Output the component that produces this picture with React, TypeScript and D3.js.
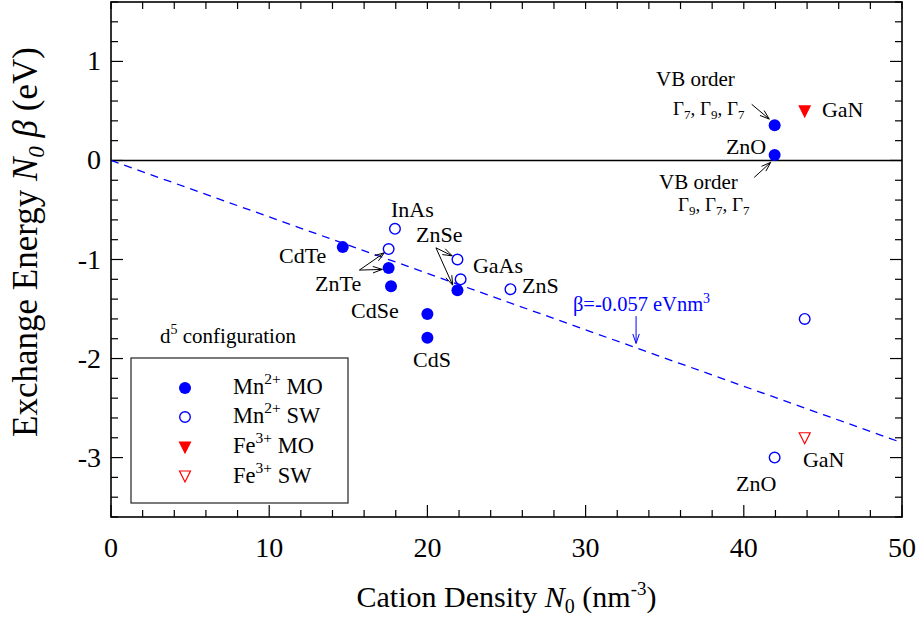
import React from "react";
import * as d3 from "d3";

const W = 922;
const H = 621;
const PL = 111, PR = 902, PT = 2, PB = 517;

const xDomain = [0, 50];
const yDomain = [-3.6, 1.6];
const xTickVals = [0, 10, 20, 30, 40, 50];
const yTickVals = [-3, -2, -1, 0, 1];

// Mn2+ MO (filled blue circles)
const mnMOName = ["CdTe", "ZnTe", "CdSe", "CdS", "CdS", "ZnSe", "ZnO", "ZnO"];
const mnMOx = [14.65, 17.55, 17.7, 20.0, 20.0, 21.9, 41.95, 41.95];
const mnMOy = [-0.875, -1.085, -1.27, -1.55, -1.79, -1.31, 0.355, 0.055];

// Mn2+ SW (open blue circles)
const mnSWName = ["InAs", "ZnTe", "ZnSe", "GaAs", "ZnS", "GaN", "ZnO"];
const mnSWx = [17.95, 17.55, 21.9, 22.1, 25.25, 43.85, 41.95];
const mnSWy = [-0.69, -0.895, -1.0, -1.2, -1.3, -1.6, -3.0];

// Fe3+ MO / SW (red triangles)
const feMOx = [43.85];
const feMOy = [0.5];
const feSWx = [43.85];
const feSWy = [-2.8];

const slope = -0.057;

// labels: text, data x (left), data y (baseline)
const labelText = ["InAs", "CdTe", "ZnTe", "CdSe", "CdS", "ZnSe", "GaAs", "ZnS", "VB order", "GaN", "ZnO", "VB order", "GaN", "ZnO"];
const labelX = [19.05, 10.62, 12.9, 15.17, 19.09, 19.28, 22.88, 25.98, 34.45, 44.94, 38.87, 34.64, 43.74, 39.51];
const labelY = [-0.572, -1.036, -1.319, -1.592, -2.087, -0.824, -1.137, -1.339, 0.752, 0.438, 0.065, -0.287, -3.097, -3.339];

// arrows: x1,y1 -> x2,y2 in data units
const arrowX1 = [15.7, 15.7, 20.54, 20.54, 40.5, 40.66, 33.19];
const arrowY1 = [-1.107, -1.107, -0.882, -0.882, 0.567, -0.171, -1.572];
const arrowX2 = [17.28, 17.15, 21.57, 21.6, 41.61, 41.7, 33.19];
const arrowY2 = [-0.932, -1.1, -0.963, -1.259, 0.418, -0.019, -1.847];
const arrowColor = ["black", "black", "black", "black", "black", "black", "#0000ff"];

const BLUE = "#0000ff";
const RED = "#ff0000";
const FONT = "'Liberation Serif', 'Times New Roman', serif";

function arrowPath(x1: number, y1: number, x2: number, y2: number) {
  const ang = Math.atan2(y2 - y1, x2 - x1);
  const L = 10, a = 0.33;
  const p1x = x2 - L * Math.cos(ang - a), p1y = y2 - L * Math.sin(ang - a);
  const p2x = x2 - L * Math.cos(ang + a), p2y = y2 - L * Math.sin(ang + a);
  return `M${x1},${y1}L${x2},${y2}M${p1x},${p1y}L${x2},${y2}L${p2x},${p2y}`;
}

function triDown(cx: number, cy: number, filled: boolean, color: string) {
  const hw = 5.5;
  const d = `M${cx - hw},${cy - 5}L${cx + hw},${cy - 5}L${cx},${cy + 6}Z`;
  return <path d={d} fill={filled ? color : "white"} stroke={color} strokeWidth={1.2} />;
}

function Gamma({ x, y, subs }: { x: number; y: number; subs: string[] }) {
  const parts: any[] = [];
  subs.forEach((s, i) => {
    parts.push(<tspan key={"g" + i}>Γ</tspan>);
    parts.push(<tspan key={"s" + i} fontSize={13} dy={4}>{s}</tspan>);
    if (i < subs.length - 1) parts.push(<tspan key={"c" + i} dy={-4}>, </tspan>);
  });
  return (
    <text x={x} y={y} fontSize={19} fontFamily={FONT}>
      {parts}
    </text>
  );
}

export default function App() {
  const x = d3.scaleLinear().domain(xDomain).range([PL, PR]);
  const y = d3.scaleLinear().domain(yDomain).range([PB, PT]);
  const xMinor = d3.range(0, 50.001, 2);
  const yMinor = d3.range(-3.6, 1.6001, 0.2);

  const lineGen = d3.line<number>().x((d) => x(d)).y((d) => y(slope * d));

  return (
    <svg width={W} height={H} style={{ position: "absolute", left: 0, top: 0, background: "white" }} fontFamily={FONT}>
      <rect x={0} y={0} width={W} height={H} fill="white" />
      {/* ticks */}
      <g stroke="black" strokeWidth={1.2}>
        {xMinor.map((v, i) => {
          const major = Math.abs(v % 10) < 1e-6;
          const len = major ? 12 : 7;
          return (
            <g key={"xt" + i}>
              <line x1={x(v)} x2={x(v)} y1={PB} y2={PB - len} />
              <line x1={x(v)} x2={x(v)} y1={PT} y2={PT + 7} />
            </g>
          );
        })}
        {yMinor.map((v, i) => {
          const major = Math.abs(v - Math.round(v)) < 1e-6;
          const len = major ? 12 : 7;
          return (
            <g key={"yt" + i}>
              <line x1={PL} x2={PL + len} y1={y(v)} y2={y(v)} />
              <line x1={PR} x2={PR - len} y1={y(v)} y2={y(v)} />
            </g>
          );
        })}
      </g>
      {/* zero line */}
      <line x1={x(0)} x2={x(50)} y1={y(0)} y2={y(0)} stroke="black" strokeWidth={1.5} />
      {/* fit line */}
      <path d={lineGen([0, 50]) || ""} fill="none" stroke={BLUE} strokeWidth={1.3} strokeDasharray="8,6" />
      {/* frame */}
      <rect x={PL} y={PT} width={PR - PL} height={PB - PT} fill="none" stroke="black" strokeWidth={1.6} />

      {/* tick labels */}
      {xTickVals.map((v) => (
        <text key={"xl" + v} x={x(v)} y={557} fontSize={28} textAnchor="middle">{v}</text>
      ))}
      {yTickVals.map((v) => (
        <text key={"yl" + v} x={101} y={y(v) + 9} fontSize={28} textAnchor="end">{v}</text>
      ))}

      {/* axis titles */}
      <text x={(PL + PR) / 2} y={607} fontSize={30} textAnchor="middle">
        Cation Density <tspan fontStyle="italic">N</tspan>
        <tspan fontSize={20} dy={6}>0</tspan>
        <tspan dy={-6}> (nm</tspan>
        <tspan fontSize={19} dy={-12}>-3</tspan>
        <tspan dy={12}>)</tspan>
      </text>
      <text transform={`translate(37,242) rotate(-90)`} fontSize={35} textAnchor="middle">
        Exchange Energy <tspan fontStyle="italic">N</tspan>
        <tspan fontStyle="italic" fontSize={23} dy={7}>0</tspan>
        <tspan dy={-7}> </tspan>
        <tspan fontStyle="italic">β</tspan> (eV)
      </text>

      {/* arrows */}
      {arrowX1.map((_, i) => (
        <path key={"ar" + i} d={arrowPath(x(arrowX1[i]), y(arrowY1[i]), x(arrowX2[i]), y(arrowY2[i]))} fill="none" stroke={arrowColor[i]} strokeWidth={1} />
      ))}

      {/* data points */}
      {mnSWx.map((v, i) => (
        <circle key={"sw" + i} cx={x(v)} cy={y(mnSWy[i])} r={5.3} fill="white" stroke={BLUE} strokeWidth={1.4} />
      ))}
      {mnMOx.map((v, i) => (
        <circle key={"mo" + i} cx={x(v)} cy={y(mnMOy[i])} r={6} fill={BLUE} />
      ))}
      {feMOx.map((v, i) => <g key={"fm" + i}>{triDown(x(v), y(feMOy[i]), true, RED)}</g>)}
      {feSWx.map((v, i) => <g key={"fs" + i}>{triDown(x(v), y(feSWy[i]), false, RED)}</g>)}

      {/* labels */}
      {labelText.map((t, i) => (
        <text key={"lb" + i} x={x(labelX[i])} y={y(labelY[i])} fontSize={t === "VB order" ? 21 : 22} textAnchor={i === 0 ? "middle" : "start"}>{t}</text>
      ))}
      <Gamma x={x(35.52)} y={y(0.459)} subs={["7", "9", "7"]} />
      <Gamma x={x(35.84)} y={y(-0.509)} subs={["9", "7", "7"]} />
      <text x={x(29.2)} y={y(-1.519)} fontSize={20.5} fill={BLUE}>
        β=-0.057 eVnm<tspan fontSize={14} dy={-8}>3</tspan>
      </text>

      {/* d5 configuration */}
      <text x={x(3.1)} y={y(-1.844)} fontSize={21}>
        d<tspan fontSize={14} dy={-9}>5</tspan>
        <tspan dy={9}> configuration</tspan>
      </text>

      {/* legend */}
      <rect x={131} y={358} width={217} height={145} fill="white" stroke="#333" strokeWidth={1.3} />
      <circle cx={185} cy={388} r={6} fill={BLUE} />
      <circle cx={185} cy={417} r={5.3} fill="white" stroke={BLUE} strokeWidth={1.4} />
      {triDown(185, 447, true, RED)}
      {triDown(185, 476, false, RED)}
      {[
        ["Mn", "2+", "MO", 394],
        ["Mn", "2+", "SW", 423],
        ["Fe", "3+", "MO", 453],
        ["Fe", "3+", "SW", 483],
      ].map(([a, s, b, yy]) => (
        <text key={String(yy)} x={233} y={Number(yy)} fontSize={22.5}>
          {a}
          <tspan fontSize={15.5} dy={-10}>{s}</tspan>
          <tspan dy={10}> {b}</tspan>
        </text>
      ))}
    </svg>
  );
}
